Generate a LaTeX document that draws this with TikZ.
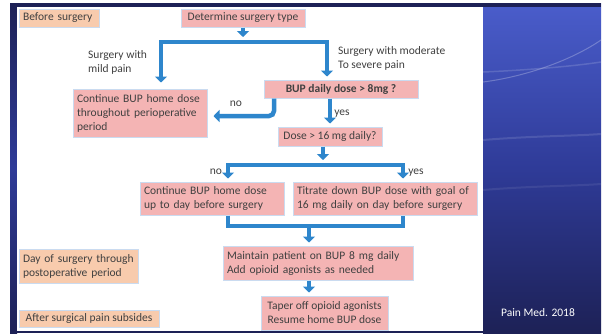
\documentclass[tikz,border=0pt]{standalone}
\usepackage{fontspec}
\setmainfont{Carlito}
\usetikzlibrary{arrows.meta,positioning}

\definecolor{flowblue}{HTML}{2E86CC}
\definecolor{boxpink}{HTML}{F4B4B4}
\definecolor{boxpeach}{HTML}{F8CBAD}
\definecolor{boxedge}{HTML}{CADBF0}
\definecolor{slidenavy}{HTML}{1D2156}
\definecolor{slidemid}{HTML}{2F3B98}
\definecolor{slideblue}{HTML}{4A5DCB}
\definecolor{textgray}{HTML}{404040}

\begin{document}
\begin{tikzpicture}[x=1pt, y=-1pt,
  every node/.style={font=\fontsize{11.5}{14}\selectfont, text=textgray},
  pinkbox/.style={draw=boxedge, line width=1pt, fill=boxpink, inner xsep=4pt, inner ysep=2pt, align=left},
  peachbox/.style={pinkbox, fill=boxpeach},
  flow/.style={draw=flowblue, line width=4.5pt, -{Triangle[width=12pt,length=6pt]}, shorten >=3pt},
  flowline/.style={draw=flowblue, line width=4.5pt},
  lbl/.style={inner sep=0pt}]
  \useasboundingbox (0,0) rectangle (604,333);
  \fill[white] (0,0) rectangle (604,333);
  \shade[top color=slidenavy, bottom color=slidenavy, middle color=slidemid] (10,3) rectangle (17,333);
  \shade[top color=slideblue, bottom color=slidenavy, middle color=slidemid] (483,3) rectangle (601,333);
  \fill[slidenavy] (10,3) rectangle (601,7);
  \fill[slidenavy] (10,331) rectangle (601,333);
  \begin{scope}
    \clip (483,7) rectangle (601,331);
    \draw[white, opacity=0.25, line width=1pt] (483,82) .. controls (530,76) and (575,58) .. (601,40);
    \draw[white, opacity=0.15, line width=1.5pt] (483,72) .. controls (530,70) and (575,66) .. (601,62);
    \draw[white, opacity=0.12, line width=2pt] (483,140) .. controls (530,136) and (575,136) .. (601,134);
    \draw[white, opacity=0.08, line width=2pt] (483,190) .. controls (530,186) and (575,186) .. (601,184);
  \end{scope}
  \fill[white] (17,7) rectangle (483,331);

  \node[peachbox, text width=72pt, minimum height=18pt] (before) at (59,18) {Before surgery};
  \node[pinkbox, align=center, minimum width=124pt, minimum height=18pt] (determine) at (243,18) {Determine surgery type};
  \node[lbl, align=left, anchor=north west] (mild) at (88,50) {Surgery with\\mild pain};
  \node[lbl, align=left, anchor=north west] (moderate) at (338,46) {Surgery with moderate\\To severe pain};
  \node[pinkbox, align=center, minimum width=154pt, minimum height=18pt, font=\fontsize{11.5}{14}\selectfont\bfseries] (bup8) at (341,89) {BUP daily dose > 8mg ?};
  \node[pinkbox, text width=126pt, minimum height=48pt] (cont1) at (140,113) {Continue BUP home dose\\throughout perioperative\\period};
  \node[pinkbox, align=center, minimum width=104pt, minimum height=19pt] (dose16) at (330,136.5) {Dose > 16 mg daily?};
  \node[pinkbox, text width=136pt, minimum height=33pt] (cont2) at (212,198.5) {Continue BUP home dose\\up to day before surgery};
  \node[pinkbox, text width=176pt, minimum height=33pt] (titrate) at (385,198.5) {Titrate down BUP dose with goal of\\16 mg daily on day before surgery};
  \node[pinkbox, text width=182pt, minimum height=34pt] (maintain) at (318,263) {Maintain patient on BUP 8 mg daily\\Add opioid agonists as needed};
  \node[pinkbox, align=center, minimum width=127pt, minimum height=34pt] (taper) at (324.5,313) {Taper off opioid agonists\\Resume home BUP dose};
  \node[peachbox, text width=111pt, minimum height=34pt] (dayof) at (78.5,266) {Day of surgery through\\postoperative period};
  \node[peachbox, align=center, minimum width=140pt, minimum height=17pt] (after) at (89,318.5) {After surgical pain subsides};
  \node[text=white] (source) at (538,313) {Pain Med. 2018};

  \coordinate (splitA) at (243,42);
  \coordinate (splitAL) at (161,42);
  \coordinate (splitAR) at (327,42);
  \draw[flow, shorten >=5pt] (determine) -- (splitA);
  \draw[flow, shorten >=6pt] (splitA) -| (cont1.north -| splitAL);
  \draw[flow] (splitA) -| (bup8.north -| splitAR);

  \coordinate (noTurn) at (274,116);
  \draw[flow, rounded corners=5pt, shorten >=6pt] (bup8.south -| noTurn) |- (noTurn -| cont1.east);
  \node[lbl] (noA) at (236,104) {no};
  \draw[flow] (dose16.north |- bup8.south) -- (dose16.north);
  \node[lbl] (yesA) at (342,114) {yes};

  \coordinate (splitB) at (323,165);
  \coordinate (splitBL) at (228,165);
  \coordinate (splitBR) at (403,165);
  \draw[flow, shorten >=5pt] (dose16.south -| splitB) -- (splitB);
  \draw[flow] (splitB) -| (cont2.north -| splitBL);
  \draw[flow] (splitB) -| (titrate.north -| splitBR);
  \node[lbl] (noB) at (216,172) {no};
  \node[lbl] (yesB) at (416,173) {yes};

  \coordinate (joinL) at (228,226);
  \coordinate (joinR) at (403,226);
  \coordinate (joinM) at (309,226);
  \draw[flowline] (cont2.south -| joinL) -- (joinL) -- (joinR) -- (titrate.south -| joinR);
  \draw[flow] (joinM) -- (maintain.north -| joinM);
  \draw[flow] (maintain.south -| joinM) -- (taper.north -| joinM);
\end{tikzpicture}
\end{document}
